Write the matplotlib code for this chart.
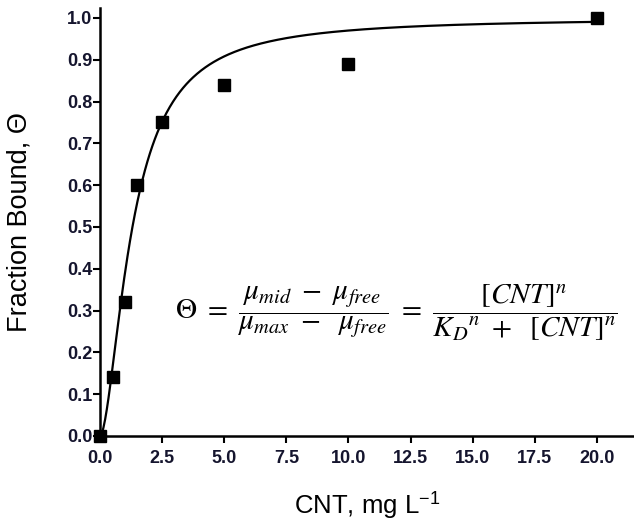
import numpy as np
import matplotlib
matplotlib.use("Agg")
import matplotlib.pyplot as plt

# Data
cnt = [0.0, 0.5, 1.0, 1.5, 2.5, 5.0, 10.0, 20.0]
theta = [0.0, 0.14, 0.32, 0.60, 0.75, 0.84, 0.89, 1.0]
xticks = [0.0, 2.5, 5.0, 7.5, 10.0, 12.5, 15.0, 17.5, 20.0]
yticks = [0.0, 0.1, 0.2, 0.3, 0.4, 0.5, 0.6, 0.7, 0.8, 0.9, 1.0]
# Hill fit parameters
KD = 1.3
n_hill = 1.7

plt.rcParams['font.family'] = ['Liberation Sans', 'DejaVu Sans']
plt.rcParams['mathtext.fontset'] = 'stix'

fig = plt.figure(figsize=(6.34, 5.24), dpi=100)
ax = fig.add_axes([0.158, 0.168, 0.842, 0.817])

xf = np.linspace(0, 20, 600)
yf = xf**n_hill / (KD**n_hill + xf**n_hill)
ax.plot(xf, yf, color='black', lw=1.6, clip_on=False)
ax.plot(cnt, theta, 's', color='black', ms=8.5, clip_on=False, zorder=5)

ax.set_xlim(0, 21.5)
ax.set_ylim(0, 1.024)
ax.set_xticks(xticks)
ax.set_xticklabels([f"{v:.1f}" for v in xticks])
ax.set_yticks(yticks)
ax.set_yticklabels([f"{v:.1f}" for v in yticks])

for s in ['top', 'right']:
    ax.spines[s].set_visible(False)
for s in ['left', 'bottom']:
    ax.spines[s].set_linewidth(1.8)

tick_color = '#15152e'
ax.tick_params(axis='both', direction='out', length=5, width=1.5, labelsize=13,
               colors='black', labelcolor=tick_color)
ax.tick_params(axis='x', pad=5)
ax.tick_params(axis='y', pad=0.5)
for lab in ax.get_xticklabels() + ax.get_yticklabels():
    lab.set_fontweight('bold')

ax.set_ylabel('Fraction Bound, Θ', fontsize=19.5, labelpad=25)
ax.set_xlabel(r'CNT, mg L$^{\mathregular{-1}}$', fontsize=18.5, labelpad=16)

ax.text(0.555, 0.29,
        r'$\Theta\ =\ \dfrac{\mu_{mid}\ -\ \mu_{free}}{\mu_{max}\ -\ \ \mu_{free}}\ =\ \dfrac{[CNT]^n}{{K_D}^n\ +\ \ [CNT]^n}$',
        transform=ax.transAxes, fontsize=21, ha='center', va='center')

fig.savefig('out.png', dpi=100)
